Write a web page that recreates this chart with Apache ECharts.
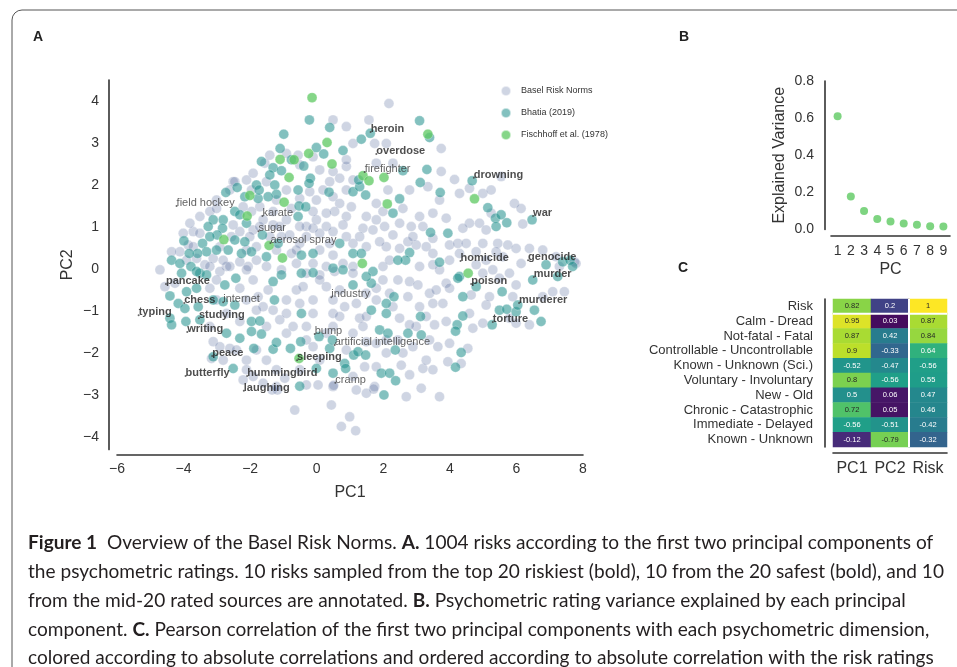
<!DOCTYPE html>
<html>
<head>
<meta charset="utf-8">
<script src="https://cdn.jsdelivr.net/npm/echarts/dist/echarts.min.js"></script>
<style>
  html, body { margin: 0; padding: 0; background: #fff; }
  #chart { width: 957px; height: 667px; }
</style>
</head>
<body>
<div id="chart"></div>
<script>
// panel A: PC1 / PC2 scores
var baselPoints = [
  [2.17,3.94],[0.89,3.39],[0.49,3.55],[1.57,3.55],[1.74,2.99],[-0.56,2.71],[-1.41,2.71],[-0.91,2.75],[-0.51,2.48],[-0.11,2.67],
  [0.09,2.36],[0.49,2.32],[0.89,2.44],[0.69,2.16],[1.09,2.12],[0.89,1.88],[0.49,1.72],[0.69,1.56],[1.04,1.48],[0.54,1.37],
  [0.89,1.25],[0.29,1.33],[-0.01,1.64],[-0.01,1.17],[-0.31,1.01],[-0.11,0.97],[0.29,1.01],[0.49,0.89],[0.79,1.05],[1.49,1.25],
  [1.79,1.17],[1.39,0.97],[1.69,0.93],[2.04,1.01],[2.59,1.44],[2.79,1.88],[3.34,1.96],[3.74,2.87],[3.74,2.32],[4.14,2.13],
  [4.29,1.8],[4.59,1.92],[4.99,1.8],[5.24,1.88],[5.54,2.2],[5.94,1.56],[6.14,1.44],[5.24,1.33],[4.89,1.09],[4.59,1.09],
  [4.39,0.97],[5.09,0.93],[6.19,1.07],[3.69,1.64],[3.49,1.33],[3.09,1.25],[3.89,1.21],[2.84,1.01],[3.19,1.01],[2.99,0.57],
  [2.74,0.65],[3.29,0.53],[3.49,0.73],[3.99,0.57],[4.24,0.61],[4.49,0.61],[4.99,0.61],[5.44,0.61],[5.74,0.57],[5.99,0.49],
  [6.39,0.49],[6.79,0.45],[7.19,0.29],[7.74,0.17],[6.14,0.13],[5.59,0.29],[5.09,0.21],[3.99,0.21],[3.49,0.37],[2.49,0.49],
  [2.09,0.53],[2.29,0.81],[1.89,0.65],[1.49,0.53],[1.09,0.61],[1.29,0.77],[0.89,0.77],[0.39,0.61],[0.09,0.45],[0.49,0.33],
  [0.79,0.13],[0.29,0.06],[-0.11,0.13],[-0.61,0.13],[-0.76,0.37],[-0.51,0.61],[-0.81,0.81],[-0.51,1.01],[-0.91,1.17],[-1.31,1.05],
  [-1.61,1.17],[-1.31,1.37],[-0.76,1.44],[-0.51,1.68],[-0.91,1.88],[-1.21,1.64],[-1.71,1.48],[-1.96,1.37],[-2.11,2.12],[-1.91,2.28],
  [-1.56,2.52],[-1.51,2.08],[-2.51,2.08],[-3.01,1.64],[-3.51,1.25],[-3.21,1.37],[-3.71,0.89],[-3.51,0.85],[-3.86,0.57],[-4.11,0.41],
  [-3.61,0.25],[-3.11,0.25],[-2.91,0.53],[-2.56,0.77],[-2.31,0.89],[-1.91,0.93],[-1.71,1.01],[-2.51,1.05],[-1.81,0.53],[-1.41,0.77],
  [-1.06,0.77],[-1.21,0.45],[-1.81,0.21],[-2.31,0.17],[-2.71,0.06],
  [-2.46,2.08],[-2.61,1.88],[-1.96,1.88],[-2.21,1.48],[-3.01,1.44],[-3.81,1.09],[-4.01,0.85],[-3.71,0.53],[-4.36,0.41],[-3.91,0.21],
  [-3.36,0.1],[-2.91,-0.06],[-2.06,0.06],[-1.51,0.06],[-1.06,-0.02],[-0.31,-0.1],[0.09,-0.14],[0.54,-0.06],[1.09,0.06],[1.99,0.06],
  [2.19,0.21],[3.09,0.06],[3.49,0.1],[4.79,0.1],[5.29,-0.02],[5.79,-0.1],[5.39,0.41],[4.79,0.41],[4.29,0.37],[2.89,0.77],
  [2.49,1.09],[1.99,1.37],[1.79,1.56],[2.14,1.88],[2.29,2.52],[1.79,2.52],[2.09,2.99],[1.09,2.99],[0.89,2.6],[0.39,2.08],
  [0.19,1.88],[-0.21,1.84],[-0.11,1.37],[0.09,0.85],[-0.31,0.77],[-0.61,0.45],[-1.11,1.01],[-2.01,0.77],[-2.11,0.45],[-2.81,0.21],
  [-4.56,-0.42],[-4.26,-0.34],[-3.21,-0.46],[-3.01,-0.26],[-2.61,0.06],[-2.11,-0.02],[-1.91,-0.26],[-2.31,-0.46],[-2.11,-0.74],[-1.76,-0.66],
  [-1.61,-0.9],[-1.46,-0.5],[-1.31,-0.98],[-0.91,-0.74],[-0.61,-0.5],[-0.41,-0.42],[-0.51,-0.82],[-0.11,-0.74],[0.09,-0.26],[0.29,-0.42],
  [0.49,-1.06],[0.84,-0.9],[1.19,-0.82],[1.29,-1.17],[1.49,-0.58],[1.79,-0.46],[1.99,-0.26],[2.44,-0.26],[2.79,-0.3],[2.74,-0.66],
  [3.04,-0.38],[3.39,-0.58],[3.59,-0.5],[3.89,-0.34],[3.99,-0.46],[3.49,-0.82],[3.29,-1.13],[3.79,-0.82],[3.89,-1.25],[3.54,-1.33],
  [4.64,-0.62],[4.69,-1.41],[5.09,-0.86],[4.99,-1.29],[5.89,-0.66],[7.44,-0.54],[7.09,-0.54],[6.39,-1.33],[5.99,-1.29],[4.54,-1.89],
  [4.34,-2.25],[3.64,-1.85],[3.49,-2.4],[3.19,-2.37],[3.14,-2.84],[3.69,-3.04],[2.69,-3.04],[2.79,-2.52],[2.54,-2.29],[3.39,-1.69],
  [2.99,-1.37],[2.49,-1.17],[2.44,-1.69],[2.09,-2.0],[1.79,-2.33],[1.74,-2.8],[1.49,-2.96],[1.19,-2.88],[1.44,-2.33],[1.09,-2.56],
  [0.49,-2.8],[0.04,-2.76],[-0.31,-2.76],[0.44,-3.24],[-0.66,-3.36],[0.99,-3.52],[0.74,-3.75],[1.17,-3.85],[-0.96,-2.6],[-1.21,-2.4],
  [-1.51,-2.17],[-2.11,-2.17],[-2.21,-2.64],[-1.91,-2.56],[-1.61,-2.72],[-3.16,-2.13],[-3.11,-1.73],[-2.61,-1.89],[-0.91,-1.53],[-0.71,-1.37],
  [-1.11,-1.21],[-0.91,-1.06],[-0.31,-1.37],[-0.31,-1.69],[-0.11,-1.06],[0.49,-1.37],[0.69,-1.13],[1.09,-1.53],[1.39,-1.37],[1.49,-1.73],
  [1.79,-1.77],[2.79,-1.33],[2.09,-1.69],[0.89,-1.93],[1.49,-1.13],[2.19,-0.58],[3.09,-0.9],[1.71,-2.86],[-1.34,-2.88],[-1.18,-2.88],
  [0.51,-2.77],
  [-4.71,-0.02],[-3.21,0.06],[-3.01,-0.74],[-2.71,-1.06],[-2.31,-1.25],[-1.81,-0.98],[-1.51,-1.37],[-1.81,-1.93],[-2.41,-1.93],[-2.91,-1.85],
  [-3.21,-1.37],[-2.81,-2.17],[-2.11,-2.4],[-1.21,-2.8],[-0.51,-2.4],[0.09,-2.17],[-0.11,-1.85],[0.29,-1.53],[0.49,-0.74],[0.69,-0.5],
  [1.09,-0.1],[1.79,-0.74],[2.29,-0.9],[2.59,-2.0],[2.89,-1.85],[3.29,-2.17],[3.94,-2.21],[3.99,-1.77],[4.59,-1.06],[3.69,-0.02],
  [4.99,-0.1],[5.49,-0.22],[5.99,-0.38],[5.19,-0.66],[5.79,-1.17],[6.79,-0.66],[7.29,0.06],[7.79,0.13]
];
var bhatiaPoints = [
  [-0.22,3.55],[0.39,3.37],[-0.99,3.21],[-1.1,2.87],[-0.01,2.89],[0.21,2.74],[0.79,2.82],[1.61,3.23],[1.34,3.09],[3.09,3.53],
  [3.39,3.13],[-1.66,2.56],[-1.31,2.41],[-0.76,2.6],[-0.39,2.45],[-1.06,2.34],[-1.41,2.24],[-0.19,2.16],[-1.81,2.0],[-1.26,2.0],
  [-2.39,1.94],[-2.73,1.82],[-2.16,1.72],[-1.76,1.68],[-1.21,1.78],[-0.56,1.88],[-0.23,2.04],[0.37,1.83],[1.09,1.84],[1.29,1.96],
  [1.47,1.76],[1.26,2.12],[2.59,2.34],[3.31,2.37],[3.11,2.06],[3.71,1.82],[2.49,1.67],[2.29,1.33],[4.67,2.1],[5.14,1.46],
  [5.37,1.21],[5.54,1.29],[5.39,1.01],[5.71,1.1],[6.47,1.17],[3.42,0.87],[3.94,0.85],[2.79,0.39],[2.67,0.21],[2.44,0.21],
  [3.69,0.16],[4.29,-0.18],[6.89,0.1],[7.39,0.17],[7.61,0.21],[7.69,0.06],[-2.81,1.17],[-2.46,1.37],[-2.31,1.29],[-2.11,1.09],
  [-3.11,1.17],[-2.83,0.97],[-3.26,1.01],[-2.99,0.81],[-3.21,0.77],[-3.99,0.67],[-3.43,0.61],[-3.31,0.41],[-3.58,0.37],[-3.83,0.37],
  [-3.01,0.45],[-2.66,0.45],[-2.46,0.69],[-2.16,0.65],[-1.96,0.41],[-2.26,0.37],[-1.63,0.81],[-1.73,1.88],[-1.46,1.72],[-0.53,1.5],
  [-0.56,1.25],[-0.33,1.48],[0.69,0.61],[1.09,0.37],[1.34,0.37],[1.69,-0.06],[-0.11,0.37],[-0.46,0.33],[-1.51,0.29],[-1.16,0.61],
  [-4.36,0.21],[-4.11,0.13],[-3.78,0.06],[-3.51,-0.1],[-4.06,-0.1],[-3.61,-0.06],[-3.31,-0.14],[-3.91,-0.54],[-3.61,-0.46],[-4.41,-0.64],
  [-4.16,-0.82],[-3.96,-0.94],[-3.56,-0.9],[-4.41,-1.17],[-4.36,-1.33],[-3.93,-1.25],[-3.51,-1.21],[-3.11,-0.74],[-2.76,-0.38],[-2.43,-0.22],
  [-2.46,-0.86],[-2.81,-0.78],[-2.71,-1.53],[-2.31,-1.65],[-1.96,-1.25],[-1.71,-1.24],[-1.96,-1.49],[-1.66,-1.55],[-1.89,-1.89],[-1.31,-1.91],
  [-1.21,-1.75],[-0.79,-1.89],[-0.48,-1.73],[0.07,-1.61],[-0.46,-1.06],[-1.27,-0.74],[-1.31,-0.3],[-1.06,-0.14],[-0.46,-0.1],[-0.11,-0.09],
  [0.49,0.02],[0.79,-0.02],[1.09,-0.38],[1.64,-0.34],[1.49,-0.18],[2.09,-0.82],[2.32,-0.66],[1.64,-0.98],[2.09,-1.06],[2.36,-1.93],
  [1.89,-1.45],[2.14,-1.53],[2.74,-1.53],[3.14,-1.57],[3.12,-1.13],[4.24,-0.22],[4.39,-0.66],[4.39,-1.12],[4.22,-1.33],[4.17,-1.48],
  [4.34,-1.99],[4.17,-2.34],[4.79,-0.42],[5.57,-0.54],[5.49,-0.98],[5.71,-0.96],[5.99,-1.02],[6.04,-0.86],[6.54,-0.98],[6.74,-1.25],
  [5.27,-1.33],[6.49,-0.26],[7.24,-0.18],[-0.51,-2.79],[-0.01,-2.37],[0.49,-2.48],[0.84,-2.25],[0.87,-2.37],[1.11,-2.05],[1.24,-1.97],
  [1.47,-2.05],[1.94,-2.48],[2.19,-2.48],[2.02,-3.0],[2.37,-2.66],[-2.51,-2.37],[-3.11,-2.09],[0.39,-1.89],[0.47,-1.69]
];
var fischhoffPoints = [
  [-0.14,4.08],[0.31,3.01],[-0.24,2.75],[-1.1,2.61],[-0.68,2.6],[0.46,2.5],[-0.83,2.18],[-2.01,1.75],[-0.98,1.59],[-2.09,1.26],
  [-2.79,0.7],[-1.43,0.56],[-1.03,0.26],[3.34,3.21],[1.39,2.22],[1.57,2.1],[2.02,2.18],[2.12,1.55],[4.74,1.67],[1.37,0.13],
  [4.55,-0.1],[-0.53,-2.13]
];

// annotated risks (bold = riskiest / safest)
var annoNames = ['heroin','overdose','firefighter','drowning','field hockey','karate','war','sugar','aerosol spray','homicide',
  'genocide','murder','pancake','poison','industry','chess','internet','murderer','typing','studying',
  'torture','writing','bump','artificial intelligence','peace','sleeping','butterfly','hummingbird','cramp','laughing'];
var annoX = [1.62,1.79,1.44,4.72,-4.21,-1.63,6.5,-1.75,-1.39,4.32,6.35,6.52,-4.53,4.64,0.44,-3.98,-2.81,6.08,-5.35,-3.54,
  5.29,-3.89,-0.06,0.54,-3.14,-0.59,-3.94,-2.09,0.56,-2.19];
var annoY = [3.26,2.74,2.31,2.17,1.5,1.26,1.26,0.9,0.62,0.19,0.21,-0.19,-0.36,-0.36,-0.67,-0.81,-0.79,-0.81,-1.1,-1.17,
  -1.26,-1.5,-1.55,-1.81,-2.07,-2.17,-2.55,-2.55,-2.71,-2.9];
var annoBold = [1,1,0,1,0,0,1,0,0,1,1,1,1,1,0,1,0,1,1,1,1,1,0,0,1,1,1,1,0,1];

// panel B: explained variance
var pcLabels = [1,2,3,4,5,6,7,8,9];
var explainedVar = [0.61,0.178,0.099,0.056,0.043,0.032,0.025,0.018,0.016];

// panel C: correlations
var corrRows = ['Risk','Calm - Dread','Not-fatal - Fatal','Controllable - Uncontrollable','Known - Unknown (Sci.)',
  'Voluntary - Involuntary','New - Old','Chronic - Catastrophic','Immediate - Delayed','Known - Unknown'];
var corrCols = ['PC1','PC2','Risk'];
var corrPC1 = [0.82,0.95,0.87,0.9,-0.52,0.8,0.5,0.72,-0.56,-0.12];
var corrPC2 = [0.2,0.03,0.42,-0.33,-0.47,-0.56,0.06,0.05,-0.51,-0.79];
var corrRisk = [1,0.87,0.84,0.64,-0.56,0.55,0.47,0.46,-0.42,-0.32];

var captionLines = [
  '{b|Figure 1}  Overview of the Basel Risk Norms. {b|A.} 1004 risks according to the first two principal components of',
  'the psychometric ratings. 10 risks sampled from the top 20 riskiest (bold), 10 from the 20 safest (bold), and 10',
  'from the mid-20 rated sources are annotated. {b|B.} Psychometric rating variance explained by each principal',
  'component. {b|C.} Pearson correlation of the first two principal components with each psychometric dimension,',
  'colored according to absolute correlations and ordered according to absolute correlation with the risk ratings'
];

var FONT = '"Liberation Sans", Arial, sans-serif';
var AXIS = { color: '#333', width: 1.6 };
var viridis = ['#440154','#482878','#3e4989','#31688e','#26828e','#1f9e89','#35b779','#6ece58','#b5de2b','#fde725'];

function minus(v) { return String(v).replace('-', '\u2212'); }

// annotation items
var annoData = annoNames.map(function (name, i) {
  return {
    name: name,
    value: [annoX[i], annoY[i]],
    label: { fontWeight: annoBold[i] ? 'bold' : 'normal', color: annoBold[i] ? '#222' : '#3a3a3a' }
  };
});

// heatmap items
var corrCols3 = [corrPC1, corrPC2, corrRisk];
var heatData = [];
corrCols3.forEach(function (col, ci) {
  col.forEach(function (r, ri) {
    heatData.push({
      value: [ci, ri, r, Math.abs(r)],
      label: { color: Math.abs(r) >= 0.7 ? '#262626' : '#fff' }
    });
  });
});

// caption width fit
var capCtx = document.createElement('canvas').getContext('2d');
capCtx.font = '19px Lato';
var capScale = 916 / capCtx.measureText(captionLines[1]).width;
var capY = [543, 572, 601, 630, 658];

var graphics = [
  { type: 'rect', shape: { x: 12, y: 10, width: 1000, height: 700, r: [10, 0, 0, 0] },
    style: { fill: 'none', stroke: '#555', lineWidth: 1 }, silent: true },
  { type: 'text', x: 33, y: 37, style: { text: 'A', fontSize: 14, fontWeight: 'bold', fontFamily: FONT, fill: '#222', verticalAlign: 'middle' } },
  { type: 'text', x: 679, y: 37, style: { text: 'B', fontSize: 14, fontWeight: 'bold', fontFamily: FONT, fill: '#222', verticalAlign: 'middle' } },
  { type: 'text', x: 678, y: 268, style: { text: 'C', fontSize: 14, fontWeight: 'bold', fontFamily: FONT, fill: '#222', verticalAlign: 'middle' } },
  // white separators in heatmap
  { type: 'line', z: 100, shape: { x1: 833, y1: 313.8, x2: 947, y2: 313.8 }, style: { stroke: '#fff', lineWidth: 2 } },
  { type: 'line', z: 100, shape: { x1: 909, y1: 299, x2: 909, y2: 447 }, style: { stroke: '#fff', lineWidth: 2 } }
];
captionLines.forEach(function (line, i) {
  graphics.push({
    type: 'text', x: 28, y: capY[i], scaleX: capScale,
    style: {
      text: line, fontSize: 19, fontFamily: 'Lato', fill: '#231f20', verticalAlign: 'middle',
      rich: { b: { fontSize: 19, fontFamily: 'Lato', fontWeight: 'bold', fill: '#231f20' } }
    }
  });
});

var chart = echarts.init(document.getElementById('chart'));
var option = {
  animation: false,
  backgroundColor: '#fff',
  textStyle: { fontFamily: FONT },
  graphic: graphics,
  legend: {
    data: ['Basel Risk Norms', 'Bhatia (2019)', 'Fischhoff et al. (1978)'],
    orient: 'vertical', left: 495, top: 80,
    itemWidth: 20, itemHeight: 10, itemGap: 10,
    icon: 'circle',
    textStyle: { fontSize: 9, color: '#333' }
  },
  grid: [
    { left: 117, top: 80, width: 466, height: 369.6 },
    { left: 831, top: 81, width: 119, height: 148.5 },
    { left: 833, top: 299, width: 114, height: 148 }
  ],
  xAxis: [
    { type: 'value', gridIndex: 0, min: -6, max: 8, interval: 2, offset: 5,
      axisLine: { onZero: false, lineStyle: AXIS }, axisTick: { show: false }, splitLine: { show: false },
      axisLabel: { fontSize: 14, color: '#333', margin: 8, formatter: minus },
      name: 'PC1', nameLocation: 'middle', nameGap: 30, nameTextStyle: { fontSize: 16, color: '#333' } },
    { type: 'value', gridIndex: 1, min: 0.5, max: 9.5, offset: 6,
      axisLine: { onZero: false, lineStyle: AXIS }, axisTick: { show: false }, splitLine: { show: false },
      axisLabel: { fontSize: 14, color: '#333', margin: 9, customValues: pcLabels },
      name: 'PC', nameLocation: 'middle', nameGap: 26, nameTextStyle: { fontSize: 16, color: '#333' } },
    { type: 'category', gridIndex: 2, data: corrCols, offset: 6,
      axisLine: { lineStyle: AXIS }, axisTick: { show: false }, splitLine: { show: false },
      axisLabel: { fontSize: 16, color: '#333', margin: 8, interval: 0 } }
  ],
  yAxis: [
    { type: 'value', gridIndex: 0, min: -4.3, max: 4.5, offset: 8,
      axisLine: { show: true, onZero: false, lineStyle: AXIS }, axisTick: { show: false }, splitLine: { show: false },
      axisLabel: { fontSize: 14, color: '#333', margin: 10, formatter: minus, customValues: [-4,-3,-2,-1,0,1,2,3,4] },
      name: 'PC2', nameLocation: 'middle', nameGap: 33, nameTextStyle: { fontSize: 16, color: '#333' } },
    { type: 'value', gridIndex: 1, min: 0, max: 0.8, interval: 0.2, offset: 6,
      axisLine: { show: true, onZero: false, lineStyle: AXIS }, axisTick: { show: false }, splitLine: { show: false },
      axisLabel: { fontSize: 14, color: '#333', margin: 11, formatter: function (v) { return v.toFixed(1); } },
      name: 'Explained Variance', nameLocation: 'middle', nameGap: 37, nameTextStyle: { fontSize: 16, color: '#333' } },
    { type: 'category', gridIndex: 2, data: corrRows, inverse: true, offset: 8,
      axisLine: { show: true, lineStyle: AXIS }, axisTick: { show: false }, splitLine: { show: false },
      axisLabel: { fontSize: 13, color: '#333', margin: 12, interval: 0 } }
  ],
  visualMap: {
    type: 'continuous', show: false, min: 0, max: 1, dimension: 3, seriesIndex: 5,
    inRange: { color: viridis }
  },
  series: [
    { name: 'Basel Risk Norms', type: 'scatter', xAxisIndex: 0, yAxisIndex: 0, data: baselPoints, symbolSize: 10,
      itemStyle: { color: 'rgba(59,82,139,0.3)', borderColor: 'rgba(255,255,255,0.7)', borderWidth: 0.5 } },
    { name: 'Bhatia (2019)', type: 'scatter', xAxisIndex: 0, yAxisIndex: 0, data: bhatiaPoints, symbolSize: 10,
      itemStyle: { color: 'rgba(33,145,140,0.7)', borderColor: 'rgba(255,255,255,0.7)', borderWidth: 0.5 } },
    { name: 'Fischhoff et al. (1978)', type: 'scatter', xAxisIndex: 0, yAxisIndex: 0, data: fischhoffPoints, symbolSize: 10,
      itemStyle: { color: 'rgba(94,201,98,0.95)', borderColor: 'rgba(255,255,255,0.7)', borderWidth: 0.5 } },
    { name: 'annotations', type: 'scatter', xAxisIndex: 0, yAxisIndex: 0, data: annoData, symbolSize: 2, z: 10,
      itemStyle: { color: '#444' },
      label: { show: true, position: [1, 1], align: 'left', verticalAlign: 'bottom', offset: [0, 2.5],
        fontSize: 11, formatter: function (p) { return p.name; } } },
    { name: 'explained', type: 'scatter', xAxisIndex: 1, yAxisIndex: 1, symbolSize: 8,
      data: pcLabels.map(function (pc, i) { return [pc, explainedVar[i]]; }),
      itemStyle: { color: '#5ec962' } },
    { name: 'corr', type: 'heatmap', xAxisIndex: 2, yAxisIndex: 2, data: heatData,
      label: { show: true, fontSize: 7.5, formatter: function (p) { return String(p.value[2]); } } }
  ]
};
chart.setOption(option);
</script>
</body>
</html>
